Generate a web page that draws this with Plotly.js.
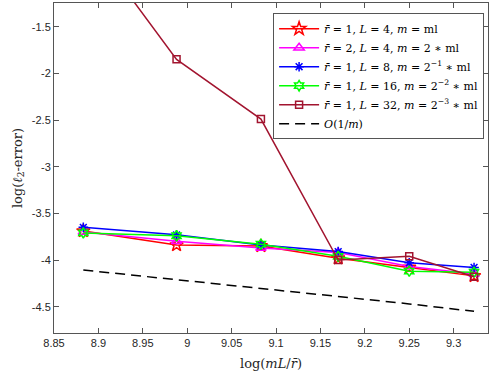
<!DOCTYPE html>
<html>
<head>
<meta charset="utf-8">
<script src="https://cdn.plot.ly/plotly-3.0.1.min.js"></script>
<style>
  html, body { margin: 0; padding: 0; background: #fff; }
  #chart { width: 498px; height: 377px; }
</style>
</head>
<body>
<div id="chart"></div>
<script>
// log(mL / r-bar) at each run
const logMLr = [8.883, 8.988, 9.083, 9.170, 9.250, 9.323];

// log(l2-error) per configuration
const errR1L4 = [-3.69, -3.84, -3.85, -3.98, -4.08, -4.17];
const errR2L4 = [-3.70, -3.80, -3.87, -3.92, -4.07, -4.15];
const errR1L8 = [-3.65, -3.73, -3.84, -3.91, -4.03, -4.08];
const errR1L16 = [-3.71, -3.74, -3.83, -3.96, -4.12, -4.13];
const errR1L32 = [-0.50, -1.85, -2.49, -4.00, -3.96, -4.18];
const refSlope = [-4.107, -4.21, -4.31, -4.39, -4.47, -4.55];

const xTicks = [8.85, 8.9, 8.95, 9, 9.05, 9.1, 9.15, 9.2, 9.25, 9.3];
const xTickText = ['8.85', '8.9', '8.95', '9', '9.05', '9.1', '9.15', '9.2', '9.25', '9.3'];
const yTicks = [-4.5, -4, -3.5, -3, -2.5, -2, -1.5];
const yTickText = ['-4.5', '-4', '-3.5', '-3', '-2.5', '-2', '-1.5'];

const rb = '<i>r\u0304</i>';
const labels = [
  rb + ' = 1, <i>L</i> = 4, <i>m</i> = ml',
  rb + ' = 2, <i>L</i> = 4, <i>m</i> = 2 \u2217 ml',
  rb + ' = 1, <i>L</i> = 8, <i>m</i> = 2<sup>\u22121</sup> \u2217 ml',
  rb + ' = 1, <i>L</i> = 16, <i>m</i> = 2<sup>\u22122</sup> \u2217 ml',
  rb + ' = 1, <i>L</i> = 32, <i>m</i> = 2<sup>\u22123</sup> \u2217 ml',
  '<i>O</i>(1/<i>m</i>)'
];

function series(y, name, color, symbol, size) {
  return {
    x: logMLr, y: y, name: name,
    type: 'scatter', mode: 'lines+markers',
    line: { color: color, width: 1.5 },
    marker: { symbol: symbol, size: size, color: color, line: { color: color, width: 1.5 } },
    cliponaxis: true
  };
}

const traces = [
  series(errR1L4, labels[0], '#ff0000', 'star-open', 10),
  series(errR2L4, labels[1], '#ff00ff', 'triangle-up-open', 9),
  series(errR1L8, labels[2], '#0000ff', 'asterisk-open', 8),
  series(errR1L16, labels[3], '#00ff00', 'hexagram-open', 8),
  series(errR1L32, labels[4], '#a2142f', 'square-open', 7),
  {
    x: logMLr, y: refSlope, name: labels[5],
    type: 'scatter', mode: 'lines',
    line: { color: '#000000', width: 1.5, dash: '10px,6px' }
  }
];

const axisCommon = {
  showgrid: false, zeroline: false,
  showline: true, linecolor: '#555', linewidth: 1,
  mirror: 'ticks', ticks: 'inside', ticklen: 5, tickcolor: '#555',
  tickfont: { family: 'Liberation Sans, Arial, sans-serif', size: 11, color: '#262626' }
};

const layout = {
  width: 498, height: 377,
  margin: { l: 54, r: 10, t: 3, b: 44 },
  paper_bgcolor: 'white', plot_bgcolor: 'white',
  showlegend: true,
  xaxis: Object.assign({}, axisCommon, {
    range: [8.85, 9.3387],
    tickmode: 'array', tickvals: xTicks, ticktext: xTickText,
    title: { text: 'log(<i>mL</i>/<i>r\u0304</i>)', standoff: 10,
      font: { family: 'DejaVu Serif, Liberation Serif, serif', size: 13, color: '#262626' } }
  }),
  yaxis: Object.assign({}, axisCommon, {
    range: [-4.782, -1.246],
    tickmode: 'array', tickvals: yTicks, ticktext: yTickText,
    title: { text: 'log(<i>\u2113</i><sub>2</sub>-error)', standoff: 6,
      font: { family: 'DejaVu Serif, Liberation Serif, serif', size: 13, color: '#262626' } }
  }),
  legend: {
    x: 0.991, xanchor: 'right', y: 0.969, yanchor: 'top',
    bgcolor: 'white', bordercolor: '#555', borderwidth: 1,
    font: { family: 'DejaVu Serif, Liberation Serif, serif', size: 11, color: '#000' },
    tracegroupgap: 0, itemwidth: 40
  }
};

Plotly.newPlot('chart', traces, layout, { displayModeBar: false, staticPlot: true });
</script>
</body>
</html>
